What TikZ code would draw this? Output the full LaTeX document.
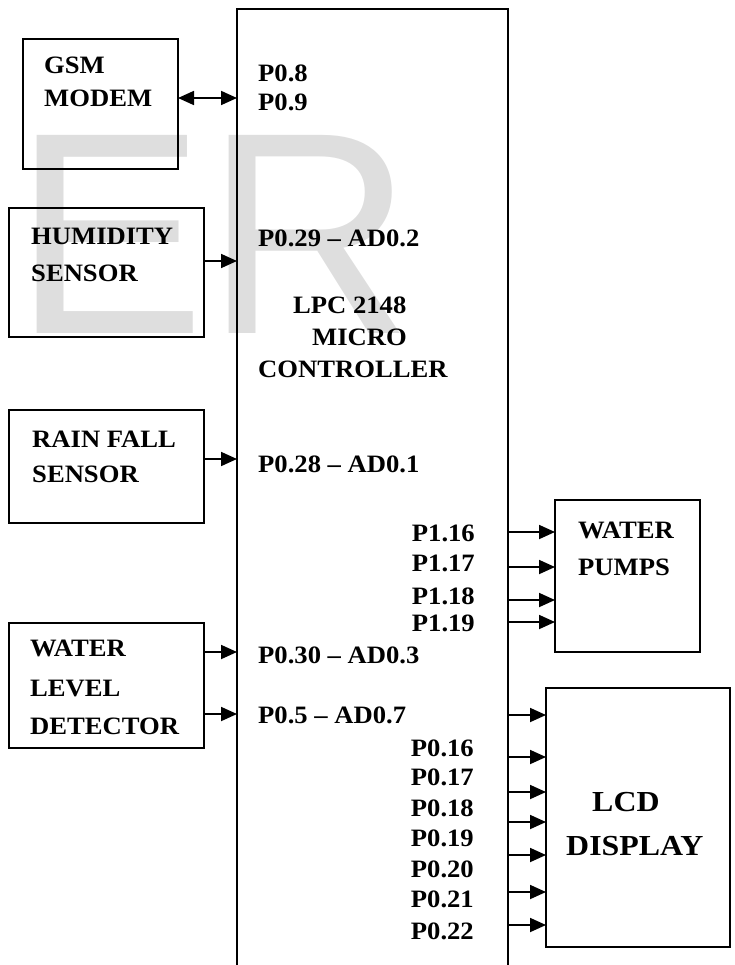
\documentclass[tikz,border=0pt]{standalone}
\usepackage{fontspec}
\setmainfont{Liberation Serif}
\newfontfamily\wmfont{Liberation Sans}
\usetikzlibrary{arrows.meta}
\begin{document}
\begin{tikzpicture}[x=1pt, y=-1pt,
    blk/.style={draw, line width=1.8pt, inner sep=0, outer sep=0},
    lbl/.style={font=\bfseries\fontsize{25}{30}\selectfont, inner sep=0, anchor=base west, xscale=1.065},
    rlbl/.style={lbl, anchor=base east},
    big/.style={font=\bfseries\fontsize{29}{34}\selectfont, inner sep=0, anchor=base west, xscale=1.1},
    arr/.style={line width=1.8pt, -{Triangle[length=16pt, width=14pt]}},
    darr/.style={line width=1.8pt, {Triangle[length=16pt, width=14pt]}-{Triangle[length=16pt, width=14pt]}}]
  \clip (0,0) rectangle (734,965);
  \node[text=black!13, font=\wmfont\fontsize{288}{288}\selectfont, inner sep=0, anchor=base west] (wm) at (13,333) {ER};
  \node[blk, minimum width=271, minimum height=991] (mcu) at (372.5,504.5) {};
  \node[blk, minimum width=155, minimum height=130] (gsm) at (100.5,104) {};
  \node[blk, minimum width=195, minimum height=129] (hum) at (106.5,272.5) {};
  \node[blk, minimum width=195, minimum height=113] (rain) at (106.5,466.5) {};
  \node[blk, minimum width=195, minimum height=125] (wld) at (106.5,685.5) {};
  \node[blk, minimum width=145, minimum height=152] (pump) at (627.5,576) {};
  \node[blk, minimum width=184, minimum height=259] (lcd) at (638,817.5) {};
  \node[lbl] (gsmt) at (44,74) {GSM};
  \node[lbl] (gsmb) at (44,107) {MODEM};
  \node[lbl] (humt) at (31,245) {HUMIDITY};
  \node[lbl] (humb) at (31,282) {SENSOR};
  \node[lbl] (raint) at (32,447) {RAIN FALL};
  \node[lbl] (rainb) at (32,482) {SENSOR};
  \node[lbl] (wldt) at (30,656) {WATER};
  \node[lbl] (wldm) at (30,696) {LEVEL};
  \node[lbl] (wldb) at (30,734) {DETECTOR};
  \node[lbl] (p8) at (258,82) {P0.8};
  \node[lbl] (p9) at (258,111) {P0.9};
  \node[lbl] (p29) at (258,247) {P0.29 -- AD0.2};
  \node[lbl] (mcut) at (293,313) {LPC 2148};
  \node[lbl] (mcum) at (312,345) {MICRO};
  \node[lbl] (mcub) at (258,377) {CONTROLLER};
  \node[lbl] (p28) at (258,472) {P0.28 -- AD0.1};
  \node[lbl] (p30) at (258,663) {P0.30 -- AD0.3};
  \node[lbl] (p5) at (258,723) {P0.5 -- AD0.7};
  \foreach \n/\y in {16/541,17/571,18/604,19/631}
    \node[rlbl] (p1\n) at (475,\y) {P1.\n};
  \foreach \n/\y in {16/756,17/785,18/816,19/846,20/877,21/907,22/939}
    \node[rlbl] (p0\n) at (474,\y) {P0.\n};
  \node[lbl] (pumpt) at (578,538) {WATER};
  \node[lbl] (pumpb) at (578,575) {PUMPS};
  \node[big] (lcdt) at (592,811) {LCD};
  \node[big] (lcdb) at (566,855) {DISPLAY};
  \draw[darr] (gsm.east |- 0,98) -- (mcu.west |- 0,98);
  \draw[arr] (hum.east |- 0,261) -- (mcu.west |- 0,261);
  \draw[arr] (rain.east |- 0,459) -- (mcu.west |- 0,459);
  \draw[arr] (wld.east |- 0,652) -- (mcu.west |- 0,652);
  \draw[arr] (wld.east |- 0,714) -- (mcu.west |- 0,714);
  \foreach \y in {532,567,600,622}
    \draw[arr] (mcu.east |- 0,\y) -- (pump.west |- 0,\y);
  \foreach \y in {715,757,792,822,855,892,925}
    \draw[arr] (mcu.east |- 0,\y) -- (lcd.west |- 0,\y);
\end{tikzpicture}
\end{document}
